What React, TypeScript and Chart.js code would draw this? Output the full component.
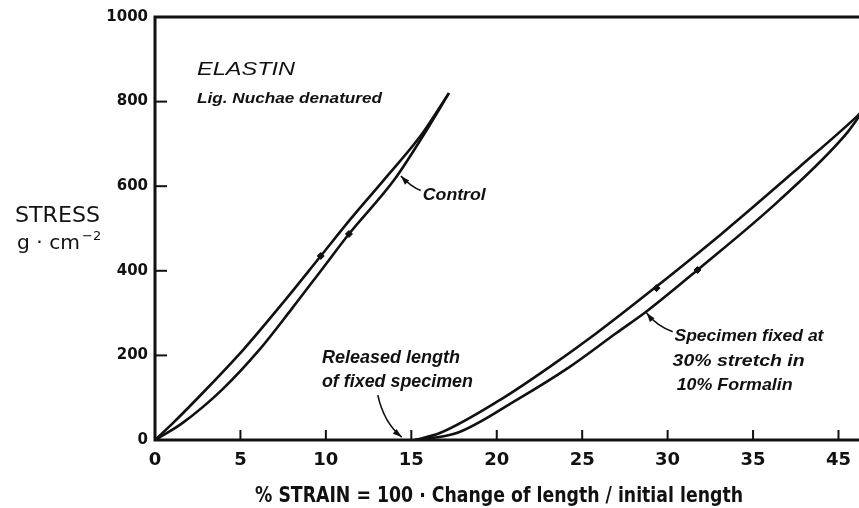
import React, { useEffect, useRef } from "react";
import { Chart, registerables } from "chart.js";

Chart.register(...registerables);

// ---- tick values / labels ----
const xTickValues = [0, 5, 10, 15, 20, 25, 30, 35, 40];
const xTickLabels = ["0", "5", "10", "15", "20", "25", "30", "35", "45"];
const yTickValues = [0, 200, 400, 600, 800, 1000];
const yTickLabels = ["0", "200", "400", "600", "800", "1000"];

// ---- Control loop (% strain, stress g/cm^2) ----
const controlUpperX = [0, 1.0, 3.0, 5.2, 7.5, 9.7, 11.5, 13.4, 15.6, 17.2];
const controlUpperY = [0, 38, 120, 215, 325, 435, 525, 615, 722, 820];
const controlLowerX = [0, 1.6, 3.9, 6.1, 8.0, 9.8, 11.35, 14.0, 15.9, 17.2];
const controlLowerY = [0, 40, 118, 213, 310, 405, 487, 615, 733, 820];

// ---- Specimen fixed at 30% stretch loop ----
const fixedUpperX = [15.2, 16.67, 20.2, 23.1, 25.85, 29.1, 33.2, 37.7, 41.05, 41.5];
const fixedUpperY = [0, 16.5, 95, 173, 253, 355, 489, 645, 764, 782];
const fixedLowerX = [15.2, 17.66, 21.17, 24.27, 27.0, 28.8, 31.75, 36.55, 40.5, 41.5];
const fixedLowerY = [0, 16.5, 95, 173, 253, 305, 402, 567, 726, 782];

// ---- direction marks on the curves ----
const markX = [9.7, 11.35, 29.35, 31.75];
const markY = [435, 487, 359, 402];

// ---- annotations (data coords) ----
const annoTexts = [
  "ELASTIN",
  "Lig. Nuchae denatured",
  "Control",
  "Released length",
  "of fixed specimen",
  "Specimen fixed at",
  "30% stretch in",
  "10% Formalin",
];
const annoX = [2.46, 2.46, 15.67, 9.77, 9.77, 30.4, 30.29, 30.53];
const annoY = [863, 797, 567, 182, 125, 234, 175, 118];

// leader lines: [x0,y0 (arrow tip), xc,yc (control), x1,y1 (end)]
const leaders = [
  [14.39, 624, 15.0, 598, 15.55, 590],
  [14.44, 7, 13.4, 40, 13.04, 106],
  [28.77, 300, 29.4, 268, 30.3, 256],
];

const xTitle = "% STRAIN = 100 · Change of length / initial length";
const yTitle1 = "STRESS";
const yTitle2 = "g · cm";
const yTitleSup = "−2";

function pts(xs: number[], ys: number[]) {
  return xs.map((x, i) => ({ x, y: ys[i] }));
}

function fitText(ctx: CanvasRenderingContext2D, text: string, x: number, y: number, width: number, font: string) {
  ctx.save();
  ctx.font = font;
  const w = ctx.measureText(text).width;
  const s = width / w;
  ctx.translate(x, y);
  ctx.scale(s, 1);
  ctx.textAlign = "left";
  ctx.textBaseline = "alphabetic";
  ctx.fillText(text, 0, 0);
  ctx.restore();
}

const annoFonts = [
  "italic 18px 'Liberation Sans'",
  "italic bold 15px 'Liberation Sans'",
  "italic bold 17px 'Liberation Sans'",
  "italic bold 18px 'Liberation Sans'",
  "italic bold 18px 'Liberation Sans'",
  "italic bold 17px 'Liberation Sans'",
  "italic bold 17px 'Liberation Sans'",
  "italic bold 17px 'Liberation Sans'",
];
const annoWidths = [98, 185, 63, 138, 151, 149, 132, 116];

const decorPlugin = {
  id: "decor",
  beforeDraw(chart: any) {
    const ctx = chart.ctx;
    ctx.save();
    ctx.fillStyle = "#ffffff";
    ctx.fillRect(0, 0, chart.width, chart.height);
    ctx.restore();
  },
  afterDraw(chart: any) {
    const ctx: CanvasRenderingContext2D = chart.ctx;
    const { left, top, bottom } = chart.chartArea;
    const xs = chart.scales.x;
    const ys = chart.scales.y;
    ctx.save();
    ctx.strokeStyle = "#111";
    ctx.fillStyle = "#111";
    ctx.lineCap = "square";
    // frame: left, bottom, top
    ctx.lineWidth = 3;
    ctx.beginPath();
    ctx.moveTo(chart.width, top);
    ctx.lineTo(left, top);
    ctx.lineTo(left, bottom);
    ctx.lineTo(chart.width, bottom);
    ctx.stroke();
    // inward ticks
    ctx.lineWidth = 2;
    ctx.lineCap = "butt";
    xTickValues.forEach((v) => {
      if (v === 0) return;
      const px = xs.getPixelForValue(v);
      ctx.beginPath();
      ctx.moveTo(px, bottom);
      ctx.lineTo(px, bottom - 10);
      ctx.stroke();
    });
    yTickValues.forEach((v) => {
      if (v === 0 || v === 1000) return;
      const py = ys.getPixelForValue(v);
      ctx.beginPath();
      ctx.moveTo(left, py);
      ctx.lineTo(left + 12, py);
      ctx.stroke();
    });

    // annotations
    annoTexts.forEach((t, i) => {
      const px = xs.getPixelForValue(annoX[i]);
      const py = ys.getPixelForValue(annoY[i]);
      fitText(ctx, t, px, py, annoWidths[i], annoFonts[i]);
    });

    // leaders with arrowheads
    ctx.lineWidth = 1.6;
    leaders.forEach((l) => {
      const x0 = xs.getPixelForValue(l[0]);
      const y0 = ys.getPixelForValue(l[1]);
      const xc = xs.getPixelForValue(l[2]);
      const yc = ys.getPixelForValue(l[3]);
      const x1 = xs.getPixelForValue(l[4]);
      const y1 = ys.getPixelForValue(l[5]);
      ctx.beginPath();
      ctx.moveTo(x1, y1);
      ctx.quadraticCurveTo(xc, yc, x0, y0);
      ctx.stroke();
      const ang = Math.atan2(y0 - yc, x0 - xc);
      const len = 9;
      const wid = 3;
      ctx.beginPath();
      ctx.moveTo(x0, y0);
      ctx.lineTo(x0 - len * Math.cos(ang) + wid * Math.sin(ang), y0 - len * Math.sin(ang) - wid * Math.cos(ang));
      ctx.lineTo(x0 - len * Math.cos(ang) - wid * Math.sin(ang), y0 - len * Math.sin(ang) + wid * Math.cos(ang));
      ctx.closePath();
      ctx.fill();
    });

    // axis titles
    ctx.textAlign = "left";
    ctx.textBaseline = "alphabetic";
    fitText(ctx, yTitle1, 15, 222, 85, "22px 'DejaVu Sans'");
    fitText(ctx, yTitle2, 17, 249, 63, "20px 'DejaVu Sans'");
    ctx.font = "13px 'DejaVu Sans'";
    ctx.fillText(yTitleSup, 82, 240);
    fitText(ctx, xTitle, 255, 502, 488, "bold 22px 'DejaVu Sans'");
    ctx.restore();
  },
};

export default function App() {
  const ref = useRef<HTMLCanvasElement | null>(null);
  useEffect(() => {
    if (!ref.current) return;
    const lineDs = (label: string, xs: number[], ys: number[]) => ({
      label,
      data: pts(xs, ys),
      showLine: true,
      borderColor: "#111",
      borderWidth: 2.6,
      pointRadius: 0,
      cubicInterpolationMode: "monotone" as const,
      fill: false,
    });
    const chart = new Chart(ref.current, {
      type: "scatter",
      data: {
        datasets: [
          lineDs("Control (upper)", controlUpperX, controlUpperY),
          lineDs("Control (lower)", controlLowerX, controlLowerY),
          lineDs("Fixed (upper)", fixedUpperX, fixedUpperY),
          lineDs("Fixed (lower)", fixedLowerX, fixedLowerY),
          {
            label: "marks",
            data: pts(markX, markY),
            showLine: false,
            pointStyle: "rectRot",
            pointRadius: 3.5,
            backgroundColor: "#111",
            borderColor: "#111",
            borderWidth: 1,
          },
        ],
      },
      options: {
        animation: false,
        responsive: false,
        maintainAspectRatio: false,
        layout: { autoPadding: false, padding: { left: 0, right: 0, top: 17, bottom: 0 } },
        plugins: {
          legend: { display: false },
          tooltip: { enabled: false },
        },
        scales: {
          x: {
            type: "linear",
            min: 0,
            max: 41.2,
            grid: { display: false, drawTicks: false },
            border: { display: false },
            afterBuildTicks: (s: any) => {
              s.ticks = xTickValues.map((v) => ({ value: v }));
            },
            afterFit: (s: any) => {
              s.height = 68;
              s.paddingLeft = 0;
              s.paddingRight = 0;
            },
            ticks: {
              padding: 10,
              color: "#111",
              font: { family: "'DejaVu Sans'", size: 18, weight: "bold" },
              maxRotation: 0,
              autoSkip: false,
              callback: (v: any) => {
                const i = xTickValues.indexOf(Number(v));
                return i >= 0 ? xTickLabels[i] : "";
              },
            },
          },
          y: {
            type: "linear",
            min: 0,
            max: 1000,
            grid: { display: false, drawTicks: false },
            border: { display: false },
            afterBuildTicks: (s: any) => {
              s.ticks = yTickValues.map((v) => ({ value: v }));
            },
            afterFit: (s: any) => {
              s.width = 155;
              s.paddingTop = 0;
              s.paddingBottom = 0;
            },
            ticks: {
              padding: 7,
              color: "#111",
              font: { family: "'DejaVu Sans'", size: 15, weight: "bold" },
              autoSkip: false,
              callback: (v: any) => {
                const i = yTickValues.indexOf(Number(v));
                return i >= 0 ? yTickLabels[i] : "";
              },
            },
          },
        },
      },
      plugins: [decorPlugin],
    });
    return () => chart.destroy();
  }, []);
  return (
    <div style={{ position: "absolute", left: 0, top: 0, width: 859, height: 508, background: "#fff" }}>
      <canvas ref={ref} width={859} height={508} style={{ display: "block" }} />
    </div>
  );
}
